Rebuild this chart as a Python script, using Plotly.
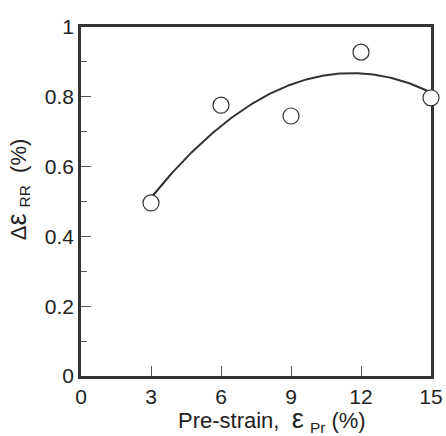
import numpy as np
import plotly.graph_objects as go

pre_strain = [3, 6, 9, 12, 15]
delta_eps_rr = [0.496, 0.776, 0.745, 0.928, 0.797]
x_ticks = [0, 3, 6, 9, 12, 15]
y_ticks = [0, 0.2, 0.4, 0.6, 0.8, 1]

coef = np.polyfit(pre_strain, delta_eps_rr, 2)
xf = np.linspace(min(pre_strain), max(pre_strain), 200)
yf = np.polyval(coef, xf)

ink = "#333333"
txt = "#222222"
font = "Liberation Sans, Arial, Helvetica, sans-serif"

fig = go.Figure()
fig.add_trace(go.Scatter(x=xf, y=yf, mode="lines",
                         line=dict(color=ink, width=2), cliponaxis=False,
                         hoverinfo="skip"))
fig.add_trace(go.Scatter(x=pre_strain, y=delta_eps_rr, mode="markers",
                         marker=dict(symbol="circle", size=16, color="white",
                                     line=dict(color=ink, width=1.2)),
                         cliponaxis=False))

axis_common = dict(showgrid=False, zeroline=False, showline=True, linecolor=ink,
                   linewidth=2.5, mirror=True, ticks="inside", ticklen=10,
                   tickwidth=1, tickcolor="#555555", layer="below traces",
                   automargin=False,
                   tickfont=dict(family=font, size=21, color=txt))

fig.update_layout(
    width=446, height=436,
    margin=dict(l=81, r=15, t=27, b=60),
    paper_bgcolor="white", plot_bgcolor="white",
    showlegend=False,
    font=dict(family=font, color=txt),
    xaxis=dict(range=[0, 15], tickvals=x_ticks, ticktext=[str(v) for v in x_ticks],
               **axis_common),
    yaxis=dict(range=[0, 1], tickvals=y_ticks, ticktext=[f"{v:g}" for v in y_ticks],
               minor=dict(ticks="inside", ticklen=6, tickwidth=1, tickcolor="#555555", dtick=0.1),
               **axis_common),
    annotations=[
        dict(text="Pre-strain,  <span style='font-size:27px'>ε</span> <sub>Pr</sub> (%)",
             xref="paper", yref="paper", x=0.547, y=-0.125,
             xanchor="center", yanchor="middle", showarrow=False,
             font=dict(family=font, size=22, color=txt)),
        dict(text="Δ<span style='font-size:27px'>ε</span> <sub>RR</sub>  (%)",
             xref="paper", yref="paper", x=(18 - 81) / 350, y=0.535,
             xanchor="center", yanchor="middle", textangle=-90, showarrow=False,
             font=dict(family=font, size=22, color=txt)),
    ],
)

fig.write_html("out.html")
